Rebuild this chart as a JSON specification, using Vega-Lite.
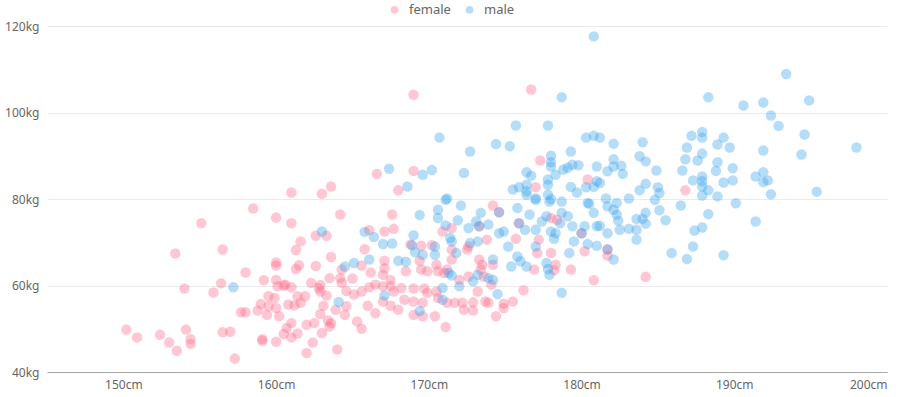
{
"$schema": "https://vega.github.io/schema/vega-lite/v6.json",
"width": 840, "height": 346,
"autosize": {"type": "none"},
"padding": {"left": 47, "top": 26, "right": 22, "bottom": 25},
"config": {"view": {"stroke": null}, "font": "Noto Sans"},
"data": {"values": [
{"g":"female","h":161.0,"w":81.5},{"g":"female","h":158.5,"w":77.8},{"g":"female","h":160.0,"w":75.7},{"g":"female","h":161.0,"w":74.4},{"g":"female","h":155.1,"w":74.4},{"g":"female","h":153.4,"w":67.4},{"g":"female","h":156.5,"w":68.3},{"g":"female","h":161.6,"w":70.2},{"g":"female","h":161.3,"w":68.2},{"g":"female","h":160.0,"w":65.3},{"g":"female","h":160.0,"w":64.6},{"g":"female","h":161.3,"w":63.8},{"g":"female","h":158.0,"w":63.0},{"g":"female","h":159.2,"w":61.2},{"g":"female","h":160.0,"w":61.3},{"g":"female","h":156.4,"w":60.5},{"g":"female","h":154.0,"w":59.3},{"g":"female","h":155.9,"w":58.4},{"g":"female","h":160.1,"w":59.8},{"g":"female","h":160.5,"w":60.0},{"g":"female","h":160.6,"w":60.2},{"g":"female","h":161.0,"w":59.6},{"g":"female","h":159.5,"w":57.5},{"g":"female","h":159.9,"w":57.1},{"g":"female","h":159.0,"w":55.7},{"g":"female","h":159.5,"w":55.2},{"g":"female","h":160.0,"w":54.8},{"g":"female","h":160.8,"w":55.6},{"g":"female","h":161.2,"w":55.4},{"g":"female","h":161.4,"w":57.5},{"g":"female","h":158.8,"w":54.2},{"g":"female","h":159.4,"w":53.2},{"g":"female","h":160.2,"w":52.9},{"g":"female","h":157.7,"w":53.8},{"g":"female","h":158.0,"w":53.8},{"g":"female","h":150.2,"w":49.8},{"g":"female","h":150.9,"w":48.0},{"g":"female","h":152.4,"w":48.6},{"g":"female","h":153.0,"w":46.8},{"g":"female","h":153.5,"w":44.9},{"g":"female","h":154.1,"w":49.8},{"g":"female","h":154.4,"w":47.6},{"g":"female","h":154.4,"w":46.5},{"g":"female","h":156.5,"w":49.2},{"g":"female","h":157.0,"w":49.3},{"g":"female","h":157.3,"w":43.1},{"g":"female","h":159.1,"w":47.6},{"g":"female","h":159.1,"w":47.2},{"g":"female","h":160.0,"w":47.0},{"g":"female","h":161.0,"w":51.3},{"g":"female","h":160.7,"w":50.2},{"g":"female","h":160.5,"w":48.8},{"g":"female","h":161.0,"w":48.0},{"g":"female","h":161.4,"w":48.9},{"g":"female","h":161.6,"w":56.0},
{"g":"female","h":166.6,"w":85.8},{"g":"female","h":168.0,"w":82.0},{"g":"female","h":163.6,"w":82.9},{"g":"female","h":163.0,"w":81.2},{"g":"female","h":164.2,"w":76.4},{"g":"female","h":167.6,"w":76.4},{"g":"female","h":167.7,"w":73.1},{"g":"female","h":167.1,"w":72.5},{"g":"female","h":162.6,"w":71.5},{"g":"female","h":163.3,"w":71.5},{"g":"female","h":166.1,"w":72.8},{"g":"female","h":165.8,"w":68.4},{"g":"female","h":163.6,"w":66.6},{"g":"female","h":167.1,"w":65.7},{"g":"female","h":161.5,"w":64.7},{"g":"female","h":162.6,"w":64.5},{"g":"female","h":164.3,"w":63.7},{"g":"female","h":165.6,"w":64.6},{"g":"female","h":167.1,"w":64.0},{"g":"female","h":163.5,"w":61.7},{"g":"female","h":164.2,"w":61.7},{"g":"female","h":166.2,"w":63.0},{"g":"female","h":167.0,"w":62.5},{"g":"female","h":167.5,"w":61.3},{"g":"female","h":165.0,"w":61.6},{"g":"female","h":164.3,"w":60.6},{"g":"female","h":162.3,"w":60.6},{"g":"female","h":162.9,"w":60.1},{"g":"female","h":162.9,"w":58.6},{"g":"female","h":163.3,"w":57.7},{"g":"female","h":161.9,"w":57.5},{"g":"female","h":164.6,"w":58.7},{"g":"female","h":165.1,"w":57.9},{"g":"female","h":165.6,"w":58.6},{"g":"female","h":166.1,"w":59.6},{"g":"female","h":166.5,"w":60.2},{"g":"female","h":167.0,"w":59.8},{"g":"female","h":167.5,"w":59.8},{"g":"female","h":167.7,"w":58.6},{"g":"female","h":163.9,"w":54.4},{"g":"female","h":164.6,"w":55.2},{"g":"female","h":163.1,"w":55.3},{"g":"female","h":166.0,"w":55.3},{"g":"female","h":166.5,"w":53.6},{"g":"female","h":167.0,"w":56.3},{"g":"female","h":167.5,"w":55.3},{"g":"female","h":168.0,"w":54.4},{"g":"female","h":162.9,"w":53.4},{"g":"female","h":164.5,"w":53.2},{"g":"female","h":163.6,"w":51.3},{"g":"female","h":163.4,"w":51.9},{"g":"female","h":162.5,"w":51.3},{"g":"female","h":162.0,"w":50.9},{"g":"female","h":165.3,"w":51.7},{"g":"female","h":165.6,"w":50.0},{"g":"female","h":162.4,"w":46.8},{"g":"female","h":162.0,"w":44.4},{"g":"female","h":164.0,"w":45.2},{"g":"female","h":163.0,"w":49.0},{"g":"female","h":163.5,"w":50.5},{"g":"female","h":162.8,"w":59.4},
{"g":"female","h":169.5,"w":69.2},{"g":"female","h":170.2,"w":69.3},{"g":"female","h":170.9,"w":72.5},{"g":"female","h":169.4,"w":65.7},{"g":"female","h":169.5,"w":63.7},{"g":"female","h":169.9,"w":63.3},{"g":"female","h":170.5,"w":64.8},{"g":"female","h":170.6,"w":63.3},{"g":"female","h":171.2,"w":63.7},{"g":"female","h":168.5,"w":63.3},{"g":"female","h":169.0,"w":59.3},{"g":"female","h":169.7,"w":59.3},{"g":"female","h":169.9,"w":58.3},{"g":"female","h":170.5,"w":58.6},{"g":"female","h":170.6,"w":57.1},{"g":"female","h":171.2,"w":56.0},{"g":"female","h":169.6,"w":56.0},{"g":"female","h":169.0,"w":56.3},{"g":"female","h":168.2,"w":59.4},{"g":"female","h":168.4,"w":56.7},{"g":"female","h":169.0,"w":53.2},{"g":"female","h":169.6,"w":52.9},{"g":"female","h":170.4,"w":52.9},{"g":"female","h":171.1,"w":50.4},{"g":"female","h":168.8,"w":69.5},
{"g":"female","h":174.2,"w":78.5},{"g":"female","h":174.6,"w":77.0},{"g":"female","h":171.5,"w":73.3},{"g":"female","h":173.8,"w":70.6},{"g":"female","h":172.6,"w":69.0},{"g":"female","h":172.5,"w":68.3},{"g":"female","h":171.5,"w":68.3},{"g":"female","h":171.5,"w":66.0},{"g":"female","h":175.7,"w":70.8},{"g":"female","h":177.2,"w":70.6},{"g":"female","h":177.1,"w":67.5},{"g":"female","h":178.0,"w":67.5},{"g":"female","h":178.3,"w":64.8},{"g":"female","h":178.2,"w":63.5},{"g":"female","h":176.9,"w":63.7},{"g":"female","h":178.0,"w":75.6},{"g":"female","h":179.3,"w":63.7},{"g":"female","h":180.2,"w":67.9},{"g":"female","h":180.8,"w":61.2},{"g":"female","h":171.0,"w":62.9},{"g":"female","h":172.0,"w":61.3},{"g":"female","h":172.6,"w":62.1},{"g":"female","h":173.4,"w":63.7},{"g":"female","h":173.3,"w":66.0},{"g":"female","h":173.5,"w":64.8},{"g":"female","h":174.2,"w":64.8},{"g":"female","h":173.6,"w":62.1},{"g":"female","h":174.1,"w":60.2},{"g":"female","h":173.2,"w":58.6},{"g":"female","h":176.2,"w":58.9},{"g":"female","h":175.5,"w":56.3},{"g":"female","h":174.9,"w":55.8},{"g":"female","h":174.9,"w":54.8},{"g":"female","h":174.4,"w":52.9},{"g":"female","h":173.9,"w":56.0},{"g":"female","h":173.7,"w":56.3},{"g":"female","h":172.9,"w":56.1},{"g":"female","h":172.9,"w":54.2},{"g":"female","h":172.3,"w":54.4},{"g":"female","h":172.2,"w":56.0},{"g":"female","h":171.7,"w":56.0},{"g":"female","h":175.9,"w":74.4},{"g":"female","h":180.0,"w":72.1},{"g":"female","h":173.3,"w":73.7},
{"g":"female","h":177.3,"w":88.9},{"g":"female","h":180.4,"w":84.5},{"g":"female","h":169.0,"w":86.5},{"g":"female","h":177.0,"w":82.7},{"g":"female","h":169.0,"w":104.1},{"g":"female","h":176.7,"w":105.3},{"g":"female","h":186.8,"w":82.0},{"g":"female","h":184.2,"w":62.0},{"g":"female","h":178.4,"w":75.2},{"g":"female","h":181.7,"w":68.3},{"g":"female","h":181.7,"w":66.9},
{"g":"male","h":157.2,"w":59.6},{"g":"male","h":167.4,"w":87.0},{"g":"male","h":163.0,"w":72.5},{"g":"male","h":165.8,"w":72.4},{"g":"male","h":166.4,"w":71.2},{"g":"male","h":167.0,"w":69.6},{"g":"male","h":167.6,"w":69.7},{"g":"male","h":166.1,"w":66.0},{"g":"male","h":168.0,"w":65.7},{"g":"male","h":165.1,"w":65.2},{"g":"male","h":164.5,"w":64.4},{"g":"male","h":167.1,"w":57.7},{"g":"male","h":164.1,"w":56.2},
{"g":"male","h":169.4,"w":76.3},{"g":"male","h":170.6,"w":77.5},{"g":"male","h":170.6,"w":75.6},{"g":"male","h":171.1,"w":79.8},{"g":"male","h":171.1,"w":73.9},{"g":"male","h":169.0,"w":71.6},{"g":"male","h":168.9,"w":69.3},{"g":"male","h":169.1,"w":67.7},{"g":"male","h":169.6,"w":67.1},{"g":"male","h":170.4,"w":69.0},{"g":"male","h":170.4,"w":67.1},{"g":"male","h":171.4,"w":71.0},{"g":"male","h":171.3,"w":62.9},{"g":"male","h":170.9,"w":59.4},{"g":"male","h":170.9,"w":56.7},{"g":"male","h":169.4,"w":54.1},{"g":"male","h":168.5,"w":65.5},
{"g":"male","h":172.1,"w":78.5},{"g":"male","h":171.9,"w":75.1},{"g":"male","h":171.5,"w":70.2},{"g":"male","h":172.6,"w":73.3},{"g":"male","h":173.1,"w":74.8},{"g":"male","h":173.4,"w":76.8},{"g":"male","h":173.9,"w":74.1},{"g":"male","h":173.3,"w":73.7},{"g":"male","h":174.6,"w":76.9},{"g":"male","h":174.9,"w":72.5},{"g":"male","h":174.6,"w":72.1},{"g":"male","h":173.2,"w":70.2},{"g":"male","h":172.7,"w":69.8},{"g":"male","h":171.8,"w":67.5},{"g":"male","h":174.2,"w":66.0},{"g":"male","h":175.2,"w":69.0},{"g":"male","h":175.8,"w":77.9},{"g":"male","h":176.6,"w":76.4},{"g":"male","h":177.0,"w":79.8},{"g":"male","h":177.9,"w":79.4},{"g":"male","h":178.7,"w":79.4},{"g":"male","h":175.9,"w":74.4},{"g":"male","h":176.3,"w":72.9},{"g":"male","h":177.0,"w":72.9},{"g":"male","h":177.4,"w":74.8},{"g":"male","h":177.7,"w":76.0},{"g":"male","h":178.0,"w":72.5},{"g":"male","h":178.3,"w":72.1},{"g":"male","h":178.2,"w":70.8},{"g":"male","h":178.6,"w":74.4},{"g":"male","h":178.7,"w":76.8},{"g":"male","h":179.1,"w":76.0},{"g":"male","h":179.4,"w":73.7},{"g":"male","h":179.5,"w":70.2},{"g":"male","h":179.2,"w":67.5},{"g":"male","h":180.0,"w":72.1},{"g":"male","h":180.2,"w":73.7},{"g":"male","h":180.5,"w":78.9},{"g":"male","h":180.8,"w":76.8},{"g":"male","h":181.0,"w":73.7},{"g":"male","h":177.0,"w":69.0},{"g":"male","h":175.8,"w":66.7},{"g":"male","h":175.4,"w":64.4},{"g":"male","h":176.0,"w":65.6},{"g":"male","h":176.4,"w":64.4},{"g":"male","h":177.7,"w":65.2},{"g":"male","h":177.9,"w":62.5},{"g":"male","h":177.8,"w":63.8},{"g":"male","h":178.7,"w":58.3},{"g":"male","h":174.5,"w":58.0},{"g":"male","h":174.2,"w":61.3},{"g":"male","h":173.9,"w":61.7},{"g":"male","h":173.2,"w":62.5},{"g":"male","h":172.9,"w":61.0},{"g":"male","h":171.5,"w":62.3},{"g":"male","h":172.0,"w":59.8},
{"g":"male","h":178.7,"w":103.5},{"g":"male","h":175.7,"w":97.0},{"g":"male","h":177.8,"w":97.0},{"g":"male","h":170.7,"w":94.2},{"g":"male","h":174.4,"w":92.7},{"g":"male","h":175.3,"w":92.2},{"g":"male","h":172.7,"w":91.0},{"g":"male","h":180.3,"w":94.2},{"g":"male","h":180.8,"w":94.6},{"g":"male","h":181.2,"w":94.2},{"g":"male","h":179.3,"w":91.0},{"g":"male","h":178.0,"w":90.0},{"g":"male","h":178.0,"w":88.5},{"g":"male","h":178.0,"w":87.5},{"g":"male","h":178.8,"w":86.8},{"g":"male","h":179.1,"w":87.2},{"g":"male","h":179.4,"w":87.9},{"g":"male","h":179.8,"w":87.8},{"g":"male","h":181.0,"w":84.1},{"g":"male","h":180.3,"w":82.7},{"g":"male","h":180.8,"w":82.8},{"g":"male","h":169.6,"w":85.6},{"g":"male","h":170.2,"w":86.7},{"g":"male","h":172.3,"w":86.0},{"g":"male","h":168.6,"w":82.9},{"g":"male","h":176.4,"w":86.2},{"g":"male","h":176.7,"w":85.4},{"g":"male","h":175.5,"w":82.2},{"g":"male","h":175.9,"w":82.7},{"g":"male","h":176.4,"w":83.3},{"g":"male","h":176.4,"w":81.8},{"g":"male","h":176.4,"w":81.0},{"g":"male","h":177.0,"w":80.1},{"g":"male","h":177.8,"w":84.5},{"g":"male","h":177.8,"w":83.3},{"g":"male","h":178.3,"w":85.6},{"g":"male","h":177.8,"w":81.0},{"g":"male","h":178.0,"w":80.0},{"g":"male","h":179.3,"w":82.8},{"g":"male","h":179.7,"w":81.5},{"g":"male","h":180.4,"w":79.1},{"g":"male","h":171.2,"w":80.1},
{"g":"male","h":180.8,"w":117.6},{"g":"male","h":193.4,"w":108.9},{"g":"male","h":188.3,"w":103.5},{"g":"male","h":190.6,"w":101.6},{"g":"male","h":191.9,"w":102.3},{"g":"male","h":194.9,"w":102.8},{"g":"male","h":192.4,"w":99.3},{"g":"male","h":192.9,"w":96.9},{"g":"male","h":194.6,"w":94.9},{"g":"male","h":194.4,"w":90.3},{"g":"male","h":198.0,"w":91.9},{"g":"male","h":195.4,"w":81.7},{"g":"male","h":191.9,"w":91.2},{"g":"male","h":191.4,"w":85.2},{"g":"male","h":191.9,"w":86.2},{"g":"male","h":191.9,"w":83.9},{"g":"male","h":192.2,"w":84.3},{"g":"male","h":192.4,"w":81.1},{"g":"male","h":191.4,"w":74.8},{"g":"male","h":190.1,"w":79.0},{"g":"male","h":189.9,"w":87.1},{"g":"male","h":189.9,"w":84.3},{"g":"male","h":189.3,"w":83.8},{"g":"male","h":189.7,"w":91.9},{"g":"male","h":189.3,"w":94.2},{"g":"male","h":188.9,"w":92.6},{"g":"male","h":188.9,"w":88.5},{"g":"male","h":188.8,"w":86.5},{"g":"male","h":188.9,"w":80.6},{"g":"male","h":188.3,"w":82.0},{"g":"male","h":187.9,"w":95.5},{"g":"male","h":187.9,"w":94.2},{"g":"male","h":187.2,"w":94.6},{"g":"male","h":186.9,"w":91.9},{"g":"male","h":187.9,"w":90.5},{"g":"male","h":187.6,"w":88.9},{"g":"male","h":186.8,"w":89.2},{"g":"male","h":186.6,"w":86.6},{"g":"male","h":187.9,"w":85.2},{"g":"male","h":187.9,"w":84.1},{"g":"male","h":187.9,"w":82.9},{"g":"male","h":187.3,"w":84.3},{"g":"male","h":187.9,"w":80.8},{"g":"male","h":188.3,"w":76.5},{"g":"male","h":187.9,"w":73.4},{"g":"male","h":187.4,"w":72.7},{"g":"male","h":186.5,"w":78.5},{"g":"male","h":187.3,"w":69.0},{"g":"male","h":185.9,"w":67.5},{"g":"male","h":186.9,"w":66.1},{"g":"male","h":189.3,"w":67.0},{"g":"male","h":185.5,"w":75.1},{"g":"male","h":185.1,"w":77.4},{"g":"male","h":185.1,"w":81.4},{"g":"male","h":185.0,"w":82.7},{"g":"male","h":184.8,"w":79.8},{"g":"male","h":184.9,"w":86.6},{"g":"male","h":184.2,"w":83.5},{"g":"male","h":184.2,"w":88.7},{"g":"male","h":183.8,"w":89.9},{"g":"male","h":184.0,"w":93.1},{"g":"male","h":183.1,"w":80.1},{"g":"male","h":183.8,"w":82.0},{"g":"male","h":183.6,"w":75.4},{"g":"male","h":184.0,"w":75.4},{"g":"male","h":184.2,"w":76.8},{"g":"male","h":184.2,"w":74.3},{"g":"male","h":183.6,"w":72.9},{"g":"male","h":183.6,"w":70.6},{"g":"male","h":183.1,"w":73.1},{"g":"male","h":182.5,"w":72.9},{"g":"male","h":181.7,"w":68.4},{"g":"male","h":182.1,"w":66.0},{"g":"male","h":181.0,"w":69.2},{"g":"male","h":180.4,"w":69.6},{"g":"male","h":181.7,"w":72.1},{"g":"male","h":181.2,"w":73.8},{"g":"male","h":182.3,"w":76.4},{"g":"male","h":182.4,"w":75.0},{"g":"male","h":182.1,"w":77.5},{"g":"male","h":181.7,"w":78.3},{"g":"male","h":182.3,"w":79.1},{"g":"male","h":181.6,"w":80.1},{"g":"male","h":181.2,"w":83.7},{"g":"male","h":181.0,"w":87.5},{"g":"male","h":181.7,"w":86.4},{"g":"male","h":182.1,"w":87.5},{"g":"male","h":182.6,"w":87.7},{"g":"male","h":182.7,"w":85.8},{"g":"male","h":182.1,"w":89.2},{"g":"male","h":182.1,"w":92.8}
]},
"mark": {"type": "circle", "size": 110, "opacity": 0.36},
"encoding": {
  "x": {"field": "h", "type": "quantitative", "scale": {"domain": [145, 200], "nice": false, "zero": false},
        "axis": {"title": null, "values": [150,160,170,180,190,200], "labelExpr": "datum.value + 'cm'", "grid": false, "ticks": false, "domainColor": "#aaaaaa", "labelColor": "#666666", "labelFontSize": 12, "labelPadding": 7}},
  "y": {"field": "w", "type": "quantitative", "scale": {"domain": [40, 120], "nice": false, "zero": false},
        "axis": {"title": null, "values": [40,60,80,100,120], "labelExpr": "datum.value + 'kg'", "domain": false, "ticks": false, "gridColor": "#ebebeb", "labelColor": "#666666", "labelFontSize": 12, "labelPadding": 8}},
  "color": {"field": "g", "type": "nominal", "scale": {"domain": ["female", "male"], "range": ["#ff6384", "#36a2eb"]},
            "legend": {"title": null, "orient": "none", "direction": "horizontal", "legendX": 341, "legendY": -23, "symbolType": "circle", "symbolSize": 60, "symbolOpacity": 0.36, "labelFontSize": 13, "labelColor": "#666666", "labelOffset": 8, "columnPadding": 12, "padding": 0}}
}
}
